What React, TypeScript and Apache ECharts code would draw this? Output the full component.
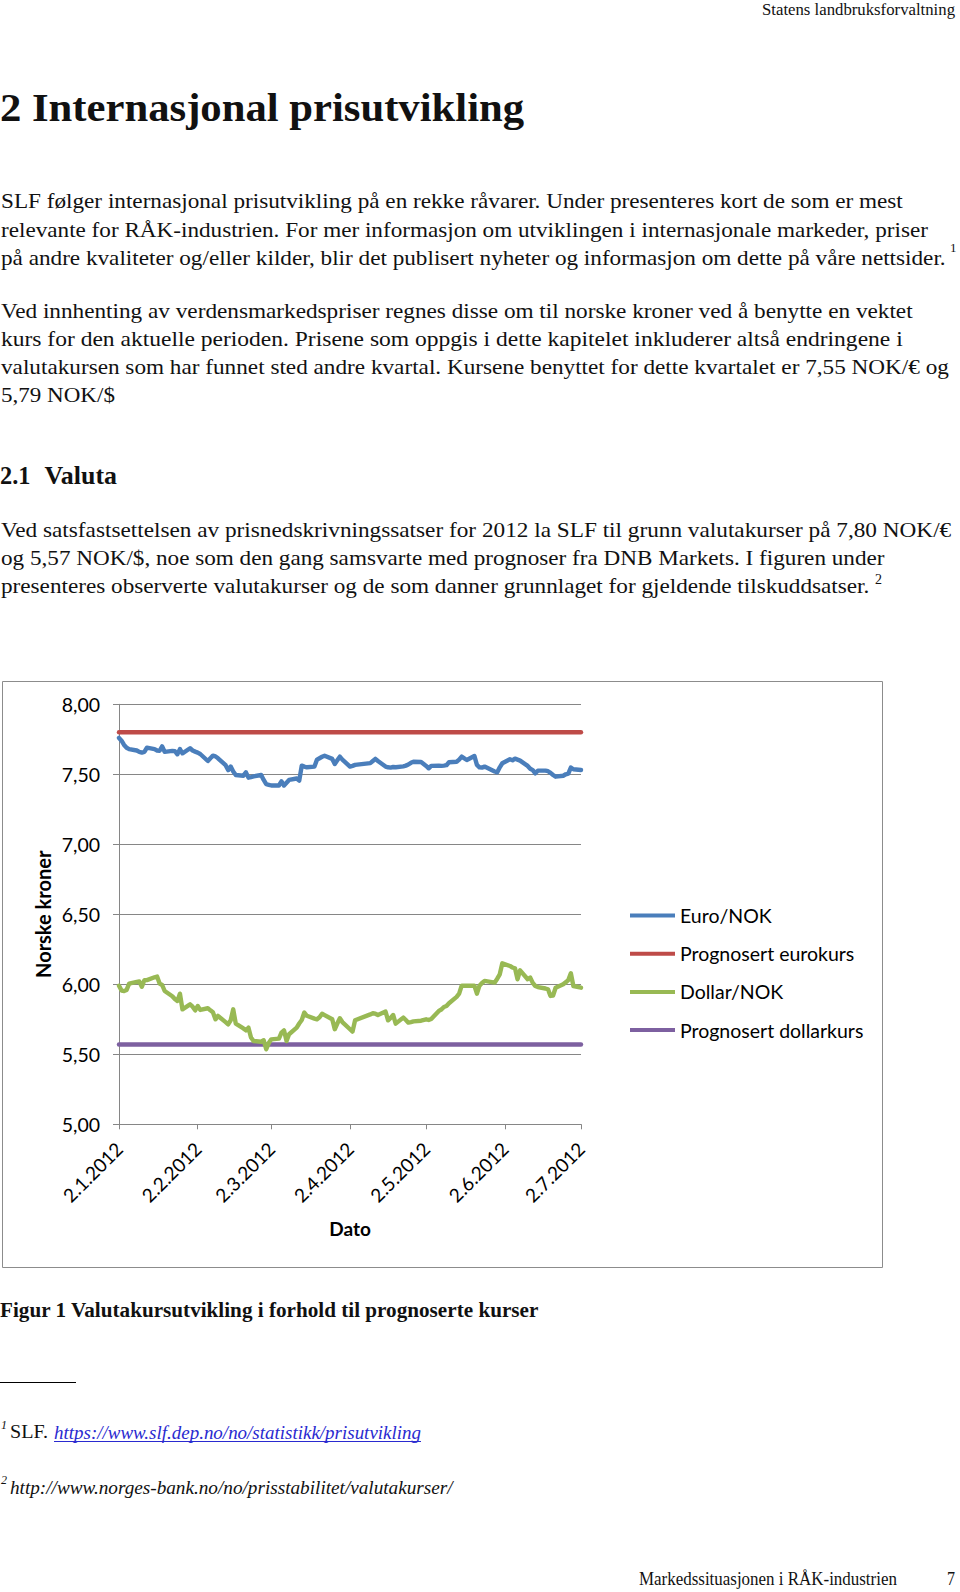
import React, { useEffect, useRef } from "react";
import * as echarts from "echarts";

// ---------- DATA ----------
const seriesNames = ["Euro/NOK", "Prognosert eurokurs", "Dollar/NOK", "Prognosert dollarkurs"];
const xTickLabels = ["2.1.2012", "2.2.2012", "2.3.2012", "2.4.2012", "2.5.2012", "2.6.2012", "2.7.2012"];
const norwegianHolidays = ["2012-04-05", "2012-04-06", "2012-04-09", "2012-05-01", "2012-05-17", "2012-05-28"];

// one value per business day, 2 Jan 2012 .. 2 Jul 2012
const euroNok = [
  7.76, 7.74, 7.71, 7.69, 7.68,
  7.67, 7.66, 7.655, 7.66, 7.69,
  7.68, 7.67, 7.668, 7.70, 7.66,
  7.667, 7.665, 7.643, 7.68, 7.65,
  7.686, 7.67, 7.662, 7.655, 7.645,
  7.595, 7.615, 7.633, 7.628, 7.614,
  7.565, 7.53, 7.555, 7.52, 7.495,
  7.49, 7.514, 7.476, 7.48, 7.485,
  7.495, 7.46, 7.43, 7.425, 7.42,
  7.42, 7.45, 7.42, 7.44, 7.46,
  7.47, 7.455, 7.562, 7.555, 7.55,
  7.555, 7.605, 7.615, 7.625, 7.633,
  7.61, 7.574, 7.60, 7.626, 7.605,
  7.555, 7.56, 7.567,
  7.58, 7.595, 7.61, 7.595,
  7.555, 7.55, 7.548, 7.552, 7.55,
  7.557, 7.562, 7.57, 7.582, 7.59,
  7.588, 7.56, 7.543, 7.56,
  7.562, 7.56, 7.562, 7.565, 7.586,
  7.59, 7.605, 7.626, 7.602,
  7.631, 7.567, 7.55, 7.548, 7.555,
  7.52, 7.514, 7.55, 7.579,
  7.607, 7.60, 7.612, 7.605, 7.598,
  7.56, 7.54, 7.53, 7.507, 7.526,
  7.526, 7.522, 7.51, 7.495, 7.483,
  7.49, 7.50, 7.505, 7.548, 7.536,
  7.531,
];

const dollarNok = [
  5.99, 5.955, 5.952, 5.96, 6.005,
  6.017, 6.02, 5.983, 6.029, 6.03,
  6.05, 6.055, 6.005, 5.995, 5.952,
  5.915, 5.895, 5.881, 5.933, 5.821,
  5.857, 5.84, 5.814, 5.845, 5.817,
  5.829, 5.814, 5.80, 5.75, 5.774,
  5.73, 5.714, 5.743, 5.821, 5.719,
  5.685, 5.671, 5.69, 5.62, 5.595,
  5.59, 5.60, 5.536, 5.58, 5.607,
  5.612, 5.655, 5.671, 5.595, 5.643,
  5.69, 5.72, 5.745, 5.798, 5.775,
  5.755, 5.75, 5.765, 5.79, 5.78,
  5.75, 5.679, 5.72, 5.757, 5.73,
  5.679, 5.662, 5.743,
  5.785, 5.793, 5.79, 5.781,
  5.805, 5.743, 5.76, 5.781, 5.719,
  5.762, 5.745, 5.726, 5.73, 5.735,
  5.74, 5.75, 5.745, 5.752,
  5.81, 5.82, 5.838, 5.845, 5.865,
  5.91, 5.933, 5.99, 5.99,
  5.99, 5.933, 5.99, 6.01, 6.024,
  6.012, 6.04, 6.071, 6.15,
  6.131, 6.12, 6.114, 6.036, 6.10,
  6.036, 6.048, 6.01, 5.988, 5.98,
  5.97, 5.964, 5.917, 5.92, 5.975,
  6.0, 6.015, 6.03, 6.079, 5.988,
  5.976,
];

const prognosertEurokurs = 7.8;
const prognosertDollarkurs = 5.57;

const yMin = 5;
const yMax = 8;
const yInterval = 0.5;

// ---------- PAGE TEXT ----------
const headerText = "Statens landbruksforvaltning";
const titleText = "2 Internasjonal prisutvikling";
const para1 = [
  "SLF følger internasjonal prisutvikling på en rekke råvarer. Under presenteres kort de som er mest",
  "relevante for RÅK-industrien. For mer informasjon om utviklingen i internasjonale markeder, priser",
  "på andre kvaliteter og/eller kilder, blir det publisert nyheter og informasjon om dette på våre nettsider.",
];
const para2 = [
  "Ved innhenting av verdensmarkedspriser regnes disse om til norske kroner ved å benytte en vektet",
  "kurs for den aktuelle perioden. Prisene som oppgis i dette kapitelet inkluderer altså endringene i",
  "valutakursen som har funnet sted andre kvartal. Kursene benyttet for dette kvartalet er 7,55 NOK/€ og",
  "5,79 NOK/$",
];
const para3 = [
  "Ved satsfastsettelsen av prisnedskrivningssatser for 2012 la SLF til grunn valutakurser på 7,80 NOK/€",
  "og 5,57 NOK/$, noe som den gang samsvarte med prognoser fra DNB Markets. I figuren under",
  "presenteres observerte valutakurser og de som danner grunnlaget for gjeldende tilskuddsatser.",
];
const captionText = "Figur 1 Valutakursutvikling i forhold til prognoserte kurser";
const footnote1Link = "https://www.slf.dep.no/no/statistikk/prisutvikling";
const footnote2Text = "http://www.norges-bank.no/no/prisstabilitet/valutakurser/";
const footerText = "Markedssituasjonen i RÅK-industrien";
const pageNumber = "7";

// ---------- helpers ----------
const DAY = 86400000;
function parseLabelDate(label: string): number {
  const [d, m, y] = label.split(".").map(Number);
  return Date.UTC(y, m - 1, d);
}
function keyOf(t: number): string {
  const d = new Date(t);
  const mm = String(d.getUTCMonth() + 1).padStart(2, "0");
  const dd = String(d.getUTCDate()).padStart(2, "0");
  return `${d.getUTCFullYear()}-${mm}-${dd}`;
}
// business days expressed as day offsets from the first tick date
function businessDayOffsets(start: number, end: number): number[] {
  const out: number[] = [];
  for (let t = start; t <= end; t += DAY) {
    const wd = new Date(t).getUTCDay();
    if (wd !== 0 && wd !== 6 && !norwegianHolidays.includes(keyOf(t))) out.push(Math.round((t - start) / DAY));
  }
  return out;
}

const SERIF = '"Liberation Serif", "Times New Roman", serif';
const SANS = 'Lato, "Open Sans", sans-serif';

let measureCtx: CanvasRenderingContext2D | null = null;
function measure(text: string, size: number, weight: string, style: string, family: string) {
  if (!measureCtx) measureCtx = document.createElement("canvas").getContext("2d");
  if (!measureCtx) return text.length * size * 0.45;
  measureCtx.font = `${style} ${weight} ${size}px ${family}`;
  return measureCtx.measureText(text).width;
}

type TL = { t: string; x: number; w: number; y: number; size: number; bold?: boolean; italic?: boolean; color?: string };
function textEl(l: TL) {
  const weight = l.bold ? "bold" : "normal";
  const style = l.italic ? "italic" : "normal";
  const natural = measure(l.t, l.size, weight, style, SERIF);
  const sx = natural > 0 ? l.w / natural : 1;
  return {
    type: "text",
    x: l.x,
    y: l.y,
    scaleX: sx,
    silent: true,
    style: {
      text: l.t,
      x: 0,
      y: 0,
      fontSize: l.size,
      fontFamily: SERIF,
      fontWeight: weight,
      fontStyle: style,
      fill: l.color || "#111",
      align: "left",
      verticalAlign: "middle",
    },
  };
}

export default function App() {
  const ref = useRef<HTMLDivElement>(null);

  useEffect(() => {
    if (!ref.current) return;
    const chart = echarts.init(ref.current, undefined, { renderer: "svg" });

    const tickTimes = xTickLabels.map(parseLabelDate);
    const start = tickTimes[0];
    const end = tickTimes[tickTimes.length - 1];
    const tickOffsets = tickTimes.map((t) => Math.round((t - start) / DAY));
    const lastOffset = tickOffsets[tickOffsets.length - 1];
    const days = businessDayOffsets(start, end);
    const euroData = days.map((t, i) => [t, euroNok[i]]);
    const dollarData = days.map((t, i) => [t, dollarNok[i]]);
    const progEuro = [[0, prognosertEurokurs], [lastOffset, prognosertEurokurs]];
    const progDollar = [[0, prognosertDollarkurs], [lastOffset, prognosertDollarkurs]];

    const lines: TL[] = [
      { t: headerText, x: 762, w: 193, y: 10, size: 16 },
      { t: titleText, x: 0, w: 524, y: 107, size: 40, bold: true },
      ...para1.map((t, i) => ({ t, x: 1, w: [902, 927, 945][i], y: 201 + i * 28.3, size: 22 })),
      ...para2.map((t, i) => ({ t, x: 1, w: [912, 902, 948, 114][i], y: 310.5 + i * 28.2, size: 22 })),
      { t: "2.1", x: 0, w: 30.5, y: 475, size: 26, bold: true },
      { t: "Valuta", x: 44.5, w: 72.5, y: 475, size: 26, bold: true },
      ...para3.map((t, i) => ({ t, x: 1, w: [951, 884, 869][i], y: 530 + i * 28, size: 22 })),
      { t: captionText, x: 0, w: 539, y: 1310, size: 21, bold: true },
      { t: "SLF.", x: 10, w: 38, y: 1432, size: 19 },
      { t: footnote1Link, x: 54, w: 367, y: 1432, size: 19, italic: true, color: "#2a2ad0" },
      { t: footnote2Text, x: 10, w: 443, y: 1488, size: 19, italic: true },
      { t: footerText, x: 639, w: 258, y: 1579, size: 19 },
      { t: pageNumber, x: 947, w: 8, y: 1579, size: 19 },
    ];

    const supers = [
      { type: "text", x: 950, y: 247, silent: true, style: { text: "1", fontSize: 13, fontFamily: SERIF, fill: "#111", align: "left", verticalAlign: "middle" } },
      { type: "text", x: 875, y: 579, silent: true, style: { text: "2", fontSize: 14, fontFamily: SERIF, fill: "#111", align: "left", verticalAlign: "middle" } },
      { type: "text", x: 1, y: 1425, silent: true, style: { text: "1", fontSize: 12, fontFamily: SERIF, fontStyle: "italic", fill: "#111", align: "left", verticalAlign: "middle" } },
      { type: "text", x: 1, y: 1480, silent: true, style: { text: "2", fontSize: 12, fontFamily: SERIF, fontStyle: "italic", fill: "#111", align: "left", verticalAlign: "middle" } },
    ];

    const fmtY = (v: number) => v.toFixed(2).replace(".", ",");
    const fmtX = (v: number) => {
      const i = tickOffsets.indexOf(Math.round(v));
      return i >= 0 ? xTickLabels[i] : "";
    };

    const lineSeries = (name: string, data: any[], color: string, z: number) => ({
      name,
      type: "line",
      data,
      showSymbol: false,
      symbol: "none",
      z,
      lineStyle: { width: 4.4, color, join: "round", cap: "round" },
      itemStyle: { color },
    });

    chart.setOption({
      animation: false,
      backgroundColor: "#ffffff",
      textStyle: { fontFamily: SANS },
      grid: { left: 119, right: 379, top: 704.3, bottom: 1592 - 1124.3, containLabel: false },
      legend: {
        orient: "vertical",
        left: 630,
        top: 905,
        padding: 0,
        itemWidth: 45,
        itemHeight: 4,
        itemGap: 17.2,
        icon: "rect",
        textStyle: { fontFamily: SANS, fontSize: 19.5, color: "#000", lineHeight: 21 },
        data: seriesNames,
      },
      xAxis: {
        type: "value",
        min: 0,
        max: lastOffset,
        name: "Dato",
        nameLocation: "middle",
        nameGap: 95,
        nameTextStyle: { fontFamily: SANS, fontSize: 19, fontWeight: "bold", color: "#000" },
        splitLine: { show: false },
        axisLine: { show: true, lineStyle: { color: "#868686", width: 1 } },
        axisTick: { show: true, customValues: tickOffsets, length: 5, lineStyle: { color: "#868686" } },
        axisLabel: {
          customValues: tickOffsets,
          rotate: 45,
          margin: 21,
          formatter: fmtX,
          fontFamily: SANS,
          fontSize: 19,
          color: "#000",
        },
      },
      yAxis: {
        type: "value",
        min: yMin,
        max: yMax,
        interval: yInterval,
        name: "Norske kroner",
        nameLocation: "middle",
        nameGap: 66,
        nameRotate: 90,
        nameTextStyle: { fontFamily: SANS, fontSize: 20, fontWeight: "bold", color: "#000" },
        axisLine: { show: true, lineStyle: { color: "#868686", width: 1 } },
        axisTick: { show: true, length: 6, lineStyle: { color: "#868686" } },
        splitLine: { show: true, lineStyle: { color: "#868686", width: 1 } },
        axisLabel: { formatter: fmtY, margin: 19, fontFamily: SANS, fontSize: 19.5, color: "#000" },
      },
      series: [
        lineSeries(seriesNames[0], euroData, "#4A7EBB", 3),
        lineSeries(seriesNames[1], progEuro, "#BE4B48", 2),
        lineSeries(seriesNames[2], dollarData, "#98B954", 3),
        lineSeries(seriesNames[3], progDollar, "#7D60A0", 2),
      ],
      graphic: {
        elements: [
          {
            type: "rect",
            silent: true,
            z: -10,
            shape: { x: 2.5, y: 681.5, width: 880, height: 586 },
            style: { fill: "none", stroke: "#8c8c8c", lineWidth: 1 },
          },
          ...lines.map(textEl),
          ...supers,
          { type: "line", silent: true, shape: { x1: 0, y1: 1382.5, x2: 76, y2: 1382.5 }, style: { stroke: "#000", lineWidth: 1 } },
          { type: "line", silent: true, shape: { x1: 54, y1: 1441.5, x2: 421, y2: 1441.5 }, style: { stroke: "#2a2ad0", lineWidth: 1 } },
        ],
      },
    });

    return () => chart.dispose();
  }, []);

  return (
    <div
      ref={ref}
      style={{ position: "absolute", left: 0, top: 0, width: 960, height: 1592, background: "#fff" }}
    />
  );
}
